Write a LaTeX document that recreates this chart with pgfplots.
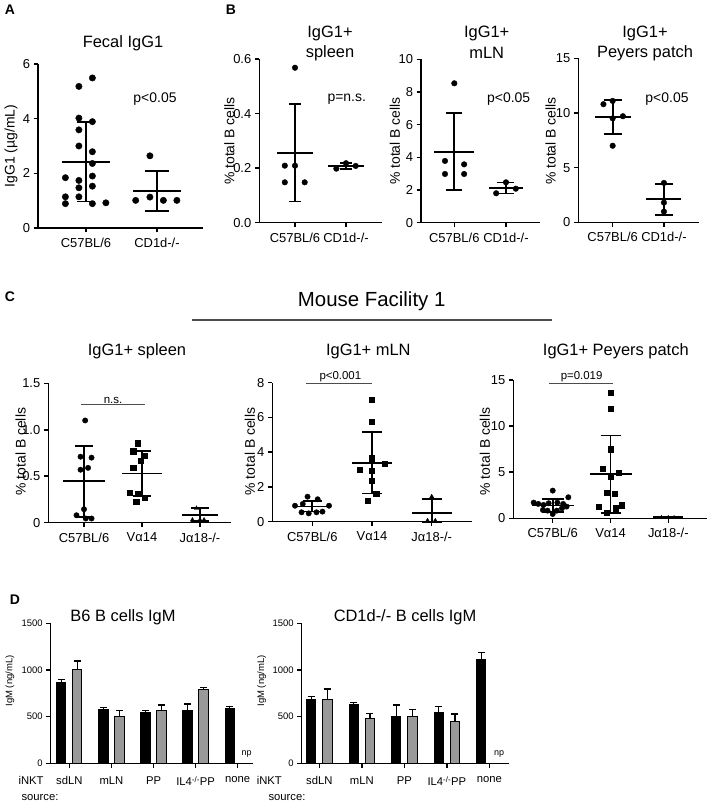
\documentclass[border=0pt]{standalone}
\usepackage{pgfplots}
\pgfplotsset{compat=1.18}
\usepackage{fontspec}
\setmainfont{Liberation Sans}
\newcommand{\fs}[1]{\fontsize{#1}{#1}\selectfont}

\pgfplotsset{
  prism/.style={
    scale only axis, clip=false, anchor=south west,
    axis lines*=left,
    axis line style={line width=1.5bp, black},
    tick style={line width=1.5bp, black},
    tick align=outside, major tick length=4.5bp,
    ticklabel style={font=\fs{13}},
    xticklabel style={yshift=-2bp},
    ymin=0,
  },
  pts/.style={only marks, mark=*, mark size=#1, black},
  sq/.style={only marks, mark=square*, mark size=#1, black},
  tri/.style={only marks, mark=triangle*, mark size=#1, black},
  msd/.style 2 args={black, only marks, mark=-, mark size=#1,
    mark options={line width=1.8bp},
    error bars/.cd, y dir=both, y explicit,
    error bar style={line width=1.8bp},
    error mark options={rotate=90, line width=1.8bp, mark size=#2}},
  dbar/.style={ybar, bar width=9.3bp, bar shift=0pt, fill=#1, draw=black,
    line width=1bp,
    error bars/.cd, y dir=plus, y explicit,
    error bar style={line width=1.3bp, black},
    error mark options={rotate=90, line width=1.3bp, black, mark size=3.5bp}},
}

\begin{document}
\begin{tikzpicture}[x=1bp,y=1bp]
\useasboundingbox (0,0) rectangle (709,806);

% ---------- panel labels and titles
\begin{scope}[font=\bfseries\fs{14}]
\node at (10,796) {A};
\node at (231,796) {B};
\node at (10,509) {C};
\node at (15,206) {D};
\end{scope}
\begin{scope}[font=\fs{16.5}]
\node at (123,762.7) {Fecal IgG1};
\node at (330,772.7) {IgG1+};  \node at (330,752.7) {spleen};
\node at (486.7,772.7) {IgG1+}; \node at (486.7,752.7) {mLN};
\node at (645,772.7) {IgG1+};  \node at (645,752.7) {Peyers patch};
\node at (137,454.3) {IgG1+ spleen};
\node at (368.3,454.3) {IgG1+ mLN};
\node at (615.8,454.3) {IgG1+ Peyers patch};
\node at (123,189) {B6 B cells IgM};
\node at (405,189) {CD1d-/- B cells IgM};
\end{scope}
\begin{scope}[font=\fs{14}]
\node at (155,707) {p<0.05};
\node at (346.7,707) {p=n.s.};
\node at (508.7,707) {p<0.05};
\node at (667,707) {p<0.05};
\node[rotate=90] at (11,660) {IgG1 (µg/mL)};
\node[rotate=90] at (229.3,665) {\% total B cells};
\node[rotate=90] at (395,665) {\% total B cells};
\node[rotate=90] at (550.7,665) {\% total B cells};
\node[rotate=90] at (20.7,354.3) {\% total B cells};
\node[rotate=90] at (250,354.3) {\% total B cells};
\node[rotate=90] at (485,354.3) {\% total B cells};
\end{scope}
\node[font=\fs{20.5}] at (371.7,504.3) {Mouse Facility 1};
\draw[line width=1.3bp, black!70] (191.7,486) -- (551.7,486);
\begin{scope}[font=\fs{9.5}]
\node[rotate=90] at (10,125) {IgM (ng/mL)};
\node[rotate=90] at (261.7,125) {IgM (ng/mL)};
\end{scope}
\begin{scope}[font=\fs{11.3}]
\node[anchor=west] at (15,25.3) {iNKT};
\node[anchor=west] at (18,8.7) {source:};
\node[anchor=west] at (253.3,25.3) {iNKT};
\node[anchor=west] at (265,8.7) {source:};
\end{scope}
\node[font=\fs{9}] at (246.7,52) {np};
\node[font=\fs{9}] at (499,52) {np};

% ---------- A: fecal IgG1
\begin{axis}[prism, at={(38bp,578bp)}, width=165bp, height=164bp,
  xmin=0.324, xmax=2.648, ymax=6,
  xtick={1,2}, xticklabels={C57BL/6,CD1d-/-},
  ytick={0,2,4,6}, yticklabels={0,2,4,6}]
\addplot[msd={24bp}{9bp}] coordinates {(1,2.42) +- (0,1.45)};
\addplot[pts=3.2bp] coordinates {(1.09,5.49)(0.9,5.18)(0.9,4.02)(1.09,3.89)(0.9,3.59)
  (0.9,3.0)(1.09,2.79)(1.09,2.36)(0.71,1.84)(1.09,1.90)(0.9,1.74)(0.9,1.47)
  (1.09,1.53)(0.71,1.14)(0.9,1.14)(0.71,0.89)(1.09,0.89)(1.28,0.92)};
\addplot[msd={24bp}{12bp}] coordinates {(2,1.36) +- (0,0.73)};
\addplot[pts=3.2bp] coordinates {(1.9,2.64)(1.7,1.01)(1.9,1.13)(2.09,1.01)(2.28,1.01)};
\end{axis}

% ---------- B: spleen
\begin{axis}[prism, at={(259.3bp,583.3bp)}, width=122.4bp, height=163.7bp,
  xmin=0.3, xmax=2.7, ymax=0.6,
  xtick={1,2}, xticklabels={C57BL/6,CD1d-/-},
  ytick={0,0.2,0.4,0.6}, yticklabels={0.0,0.2,0.4,0.6}]
\addplot[msd={18bp}{6bp}] coordinates {(1,0.256) +- (0,0.178)};
\addplot[pts=2.8bp] coordinates {(1,0.568)(0.8,0.209)(1,0.209)(0.8,0.148)(1.19,0.148)};
\addplot[msd={18bp}{6bp}] coordinates {(2,0.208) +- (0,0.01)};
\addplot[pts=2.8bp] coordinates {(1.81,0.198)(2,0.218)(2.19,0.208)};
\end{axis}

% ---------- B: mLN
\begin{axis}[prism, at={(421bp,583.3bp)}, width=119bp, height=163.4bp,
  xmin=0.356, xmax=2.658, ymax=10,
  xtick={1,2}, xticklabels={C57BL/6,CD1d-/-},
  ytick={0,2,4,6,8,10}, yticklabels={0,2,4,6,8,10}]
\addplot[msd={20bp}{8bp}] coordinates {(1,4.35) +- (0,2.35)};
\addplot[pts=2.8bp] coordinates {(1,8.53)(0.82,3.78)(1.19,3.57)(0.82,2.98)(1.19,2.98)};
\addplot[msd={17bp}{8.5bp}] coordinates {(2,2.12) +- (0,0.34)};
\addplot[pts=2.8bp] coordinates {(2,2.47)(1.81,1.8)(2.19,2.08)};
\end{axis}

% ---------- B: Peyers patch
\begin{axis}[prism, at={(578.3bp,583.7bp)}, width=121bp, height=164bp,
  xmin=0.33, xmax=2.69, ymax=15,
  xtick={1,2}, xticklabels={C57BL/6,CD1d-/-},
  ytick={0,5,10,15}, yticklabels={0,5,10,15}]
\addplot[msd={18bp}{9bp}] coordinates {(1,9.6) +- (0,1.55)};
\addplot[pts=2.8bp] coordinates {(0.82,10.8)(1,11.1)(1,9.5)(1.2,9.7)(1,7.0)};
\addplot[msd={17.5bp}{9bp}] coordinates {(2,2.1) +- (0,1.4)};
\addplot[pts=2.8bp] coordinates {(2,3.6)(2,1.8)(2,0.98)};
\end{axis}

% ---------- C: spleen
\begin{axis}[prism, at={(48.3bp,283.3bp)}, width=182.4bp, height=139.4bp,
  xmin=0.384, xmax=3.53, ymax=1.5,
  xtick={1,2,3}, xticklabels={C57BL/6,Vα14,Jα18-/-},
  ytick={0,0.5,1,1.5}, yticklabels={0,0.5,1.0,1.5}]
\addplot[msd={21bp}{9bp}] coordinates {(1,0.445) +- (0,0.38)};
\addplot[pts=2.7bp] coordinates {(1.02,1.1)(0.94,0.71)(1.13,0.70)(0.94,0.57)(1.07,0.59)
  (1,0.145)(0.87,0.08)(1.03,0.045)(1.13,0.045)};
\addplot[msd={20bp}{9bp}] coordinates {(2,0.53) +- (0,0.24)};
\addplot[sq=2.6bp] coordinates {(1.92,0.855)(1.85,0.77)(2.05,0.72)(1.98,0.67)(1.85,0.59)
  (1.79,0.32)(1.92,0.31)(2.05,0.27)(1.9,0.23)};
\addplot[msd={18bp}{9bp}] coordinates {(3,0.08) += (0,0.075) -= (0,0.06)};
\addplot[tri=2.4bp] coordinates {(2.94,0.155)(2.87,0.03)(3,0.03)(3.07,0.03)};
\draw[line width=1.1bp, black!70] (axis cs:0.95,1.27) -- (axis cs:2.05,1.27);
\node[font=\fs{11.5}, anchor=south, inner sep=1bp] at (axis cs:1.5,1.27) {n.s.};
\end{axis}

% ---------- C: mLN
\begin{axis}[prism, at={(272.3bp,284.3bp)}, width=200bp, height=139bp,
  xmin=0.33, xmax=3.68, ymax=8,
  xtick={1,2,3}, xticklabels={C57BL/6,Vα14,Jα18-/-},
  ytick={0,2,4,6,8}, yticklabels={0,2,4,6,8}]
\addplot[msd={19bp}{9.5bp}] coordinates {(1,0.88) +- (0,0.29)};
\addplot[pts=2.7bp] coordinates {(0.92,1.44)(1.09,1.29)(0.84,1.02)(0.71,0.92)(1.28,0.92)
  (0.82,0.54)(0.94,0.48)(1.07,0.54)(1.17,0.58)};
\addplot[msd={20bp}{10bp}] coordinates {(2,3.4) +- (0,1.78)};
\addplot[sq=2.6bp] coordinates {(2,7.04)(2,5.76)(2,3.65)(2.21,3.36)(1.8,3.01)(2,2.94)
  (2,2.36)(2.07,1.63)(1.93,1.21)};
\addplot[msd={20bp}{10bp}] coordinates {(3,0.52) += (0,0.79) -= (0,0.52)};
\addplot[tri=2.4bp] coordinates {(3,1.44)(2.93,0.06)(3.06,0.06)};
\draw[line width=1.1bp, black!70] (axis cs:0.9,7.97) -- (axis cs:2,7.97);
\node[font=\fs{11.5}, anchor=south, inner sep=1bp] at (axis cs:1.47,7.97) {p<0.001};
\end{axis}

% ---------- C: Peyers patch
\begin{axis}[prism, at={(513.3bp,287.7bp)}, width=194bp, height=138.3bp,
  xmin=0.318, xmax=3.675, ymax=15,
  xtick={1,2,3}, xticklabels={C57BL/6,Vα14,Jα18-/-},
  ytick={0,5,10,15}, yticklabels={0,5,10,15}]
\addplot[msd={21bp}{11bp}] coordinates {(1,1.38) +- (0,0.69)};
\addplot[pts=2.7bp] coordinates {(1,3.0)(1.27,2.28)(0.67,1.7)(0.75,1.56)(0.84,1.45)
  (0.93,1.63)(1.08,1.7)(1.18,1.56)(1.24,1.27)(0.83,0.9)(0.91,0.83)(1.07,0.83)
  (1.16,1.09)(1,0.47)};
\addplot[msd={21bp}{10bp}] coordinates {(2,4.78) +- (0,4.2)};
\addplot[sq=2.6bp] coordinates {(2.01,13.66)(2.01,11.85)(2.01,7.5)(1.87,5.36)(2.14,4.96)
  (2.01,4.53)(1.94,2.79)(2.07,2.64)(1.8,1.27)(2.2,1.41)(2.09,1.09)(1.94,0.62)};
\addplot[msd={15bp}{6bp}] coordinates {(3,0.12) +- (0,0.03)};
\addplot[tri=1.8bp] coordinates {(2.88,0.12)(3,0.12)(3.1,0.12)};
\draw[line width=1.1bp, black!70] (axis cs:0.94,14.64) -- (axis cs:2.05,14.64);
\node[font=\fs{11.5}, anchor=south, inner sep=1bp] at (axis cs:1.5,14.64) {p=0.019};
\end{axis}

% ---------- D: B6 B cells
\begin{axis}[prism, at={(50.7bp,42.7bp)}, width=202.6bp, height=140bp,
  xmin=0.558, xmax=5.37, ymax=1500,
  yticklabel style={font=\fs{9.5}}, xticklabel style={font=\fs{11.3}, yshift=-3bp},
  xtick={1,2,3,4,5}, xticklabels={sdLN,mLN,PP,IL4\textsuperscript{-/-}PP,none},
  ytick={0,500,1000,1500}, yticklabels={0,500,1000,1500}]
\addplot[dbar=black] coordinates {(0.81,864) +- (0,36) (1.81,579) +- (0,21)
  (2.81,546) +- (0,18) (3.81,571) +- (0,65) (4.81,582) +- (0,25)};
\addplot[dbar=black!40] coordinates {(1.19,1007) +- (0,89) (2.19,500) +- (0,64)
  (3.19,564) +- (0,61) (4.19,786) +- (0,28)};
\end{axis}

% ---------- D: CD1d-/- B cells
\begin{axis}[prism, at={(301.7bp,42.7bp)}, width=207.6bp, height=140bp,
  xmin=0.584, xmax=5.47, ymax=1500,
  yticklabel style={font=\fs{9.5}}, xticklabel style={font=\fs{11.3}, yshift=-3bp},
  xtick={1,2,3,4,5}, xticklabels={sdLN,mLN,PP,IL4\textsuperscript{-/-}PP,none},
  ytick={0,500,1000,1500}, yticklabels={0,500,1000,1500}]
\addplot[dbar=black] coordinates {(0.81,679) +- (0,35) (1.81,625) +- (0,29)
  (2.81,500) +- (0,125) (3.81,546) +- (0,65) (4.81,1114) +- (0,75)};
\addplot[dbar=black!40] coordinates {(1.19,686) +- (0,110) (2.19,475) +- (0,61)
  (3.19,500) +- (0,79) (4.19,443) +- (0,86)};
\end{axis}
\end{tikzpicture}
\end{document}
